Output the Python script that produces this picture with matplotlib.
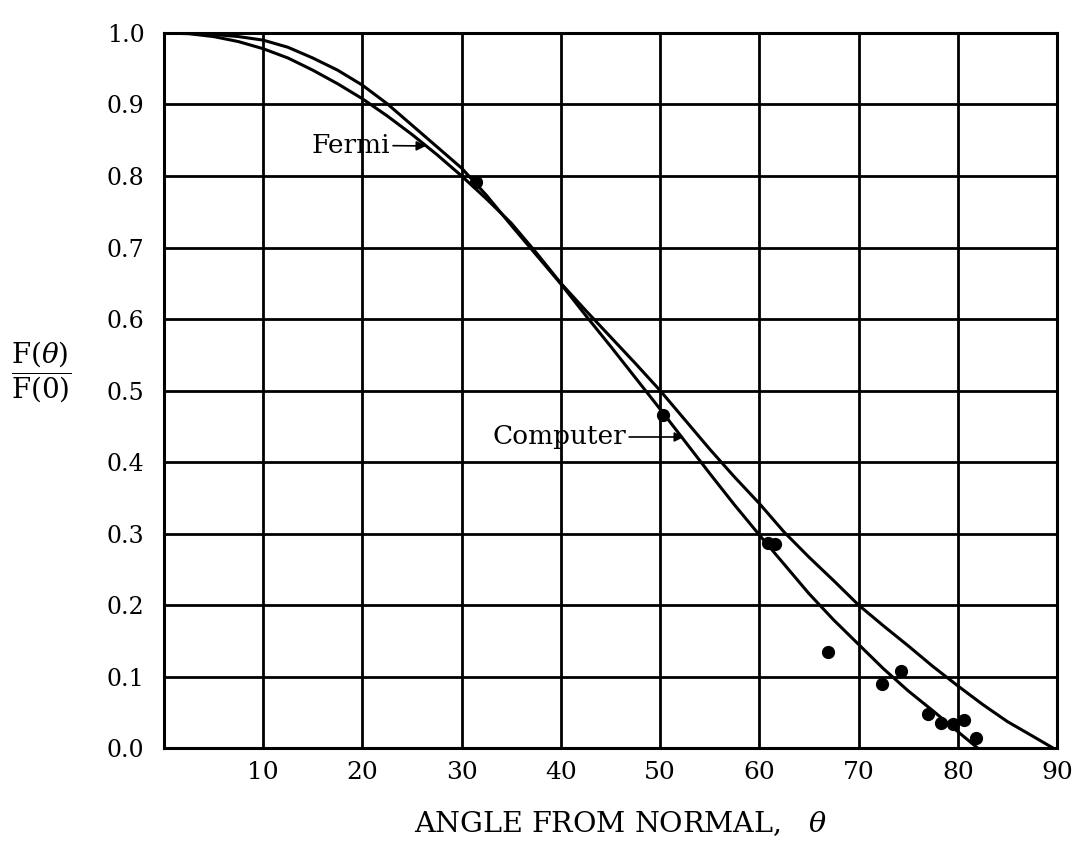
import numpy as np
import matplotlib
matplotlib.use("Agg")
import matplotlib.pyplot as plt

plt.rcParams['font.family'] = ['DejaVu Serif']
plt.rcParams['mathtext.fontset'] = 'dejavuserif'

# Fermi distribution curve
fermi_angle = [0, 2.5, 5, 7.5, 10, 12.5, 15, 17.5, 20, 22.5, 25, 27.5, 30, 32.5, 35, 37.5,
               40, 42.5, 45, 47.5, 50, 52.5, 55, 57.5, 60, 62.5, 65, 67.5, 70, 72.5, 75,
               77.5, 80, 82.5, 85, 87.5, 89.6]
fermi_ratio = [1.0, 0.999, 0.995, 0.988, 0.978, 0.965, 0.948, 0.929, 0.908, 0.884, 0.858,
               0.830, 0.800, 0.768, 0.734, 0.693, 0.650, 0.612, 0.575, 0.538, 0.500, 0.459,
               0.418, 0.379, 0.342, 0.302, 0.267, 0.234, 0.200, 0.171, 0.143, 0.114, 0.087,
               0.061, 0.037, 0.017, 0.0]

# computer result curve
comp_angle = [0, 2.5, 5, 7.5, 10, 12.5, 15, 17.5, 20, 22.5, 25, 27.5, 30, 32.5, 35, 37.5,
              40, 42.5, 45, 47.5, 50, 52.5, 55, 57.5, 60, 62.5, 65, 67.5, 70, 72.5, 75,
              77.5, 80, 82.0]
comp_ratio = [1.0, 1.0, 0.998, 0.995, 0.990, 0.980, 0.965, 0.948, 0.927, 0.901, 0.871,
              0.841, 0.811, 0.773, 0.731, 0.690, 0.649, 0.605, 0.562, 0.518, 0.474, 0.429,
              0.384, 0.340, 0.298, 0.257, 0.216, 0.179, 0.145, 0.111, 0.080, 0.052, 0.023,
              0.0]

# measured points
pt_angle = [31.4, 50.3, 60.9, 61.6, 66.9, 72.4, 74.3, 77.0, 78.3, 79.5, 80.6, 81.8]
pt_ratio = [0.792, 0.466, 0.287, 0.286, 0.134, 0.090, 0.108, 0.048, 0.035, 0.034, 0.039, 0.014]

x_ticks = [0, 10, 20, 30, 40, 50, 60, 70, 80, 90]
x_ticklabels = ['', '10', '20', '30', '40', '50', '60', '70', '80', '90']
y_ticks = np.round(np.arange(0, 1.01, 0.1), 1)

fig = plt.figure(figsize=(10.86, 8.46), dpi=100)
ax = fig.add_axes([0.151, 0.1158, 0.8223, 0.8452])

ax.plot(fermi_angle, fermi_ratio, color='black', lw=2.2, solid_capstyle='round')
ax.plot(comp_angle, comp_ratio, color='black', lw=2.2, solid_capstyle='round')
ax.plot(pt_angle, pt_ratio, 'o', color='black', markersize=8.5)

ax.set_xlim(0, 90)
ax.set_ylim(0, 1.0)
ax.set_xticks(x_ticks)
ax.set_xticklabels(x_ticklabels, fontsize=18)
ax.set_yticks(y_ticks)
ax.set_yticklabels(['%.1f' % v for v in y_ticks], fontsize=17)
ax.tick_params(axis='both', length=0)
ax.tick_params(axis='x', pad=9)
ax.tick_params(axis='y', pad=14)
ax.grid(True, color='black', lw=2)
for s in ax.spines.values():
    s.set_linewidth(2.2)

# curve labels with arrows
arrow = dict(arrowstyle='-|>', color='black', lw=1.2, mutation_scale=14, shrinkA=0, shrinkB=0)
ax.annotate('Fermi', xy=(26.4, 0.842), xytext=(22.8, 0.843), fontsize=19,
            ha='right', va='center', arrowprops=arrow)
ax.annotate('Computer', xy=(52.4, 0.435), xytext=(46.6, 0.435), fontsize=19,
            ha='right', va='center', arrowprops=arrow)

ax.set_xlabel(r'ANGLE FROM NORMAL,   $\theta$', fontsize=20.5)
ax.xaxis.set_label_coords(0.512, -0.086)

fig.text(41 / 1086, 1 - 372 / 846, r'$\dfrac{\mathrm{F}(\theta)}{\mathrm{F}(0)}$',
         fontsize=20, ha='center', va='center')

fig.savefig('out.png', dpi=100)
